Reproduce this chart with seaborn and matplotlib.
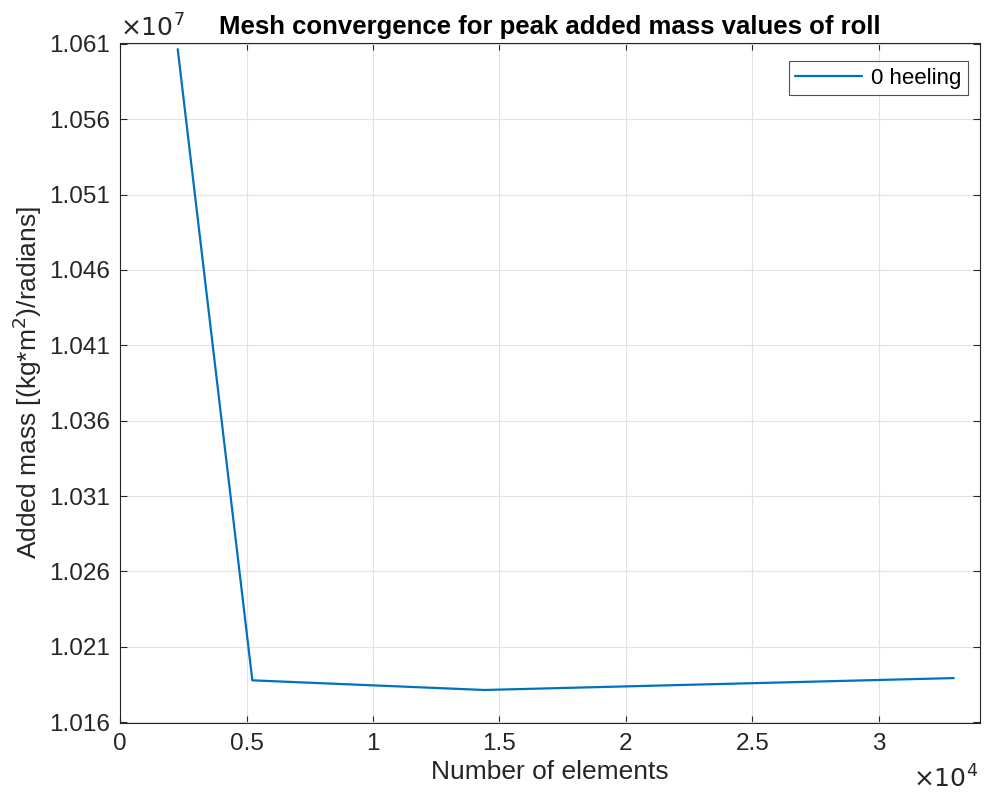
import matplotlib
matplotlib.use("Agg")
import matplotlib.pyplot as plt
import seaborn as sns
import pandas as pd
from matplotlib.ticker import FuncFormatter, FixedLocator

elements = [2280, 5230, 14400, 32960]
added_mass = [1.06065e7, 1.01877e7, 1.01813e7, 1.01892e7]
series = ["0 heeling"] * 4
yticks = [1.016e7, 1.021e7, 1.026e7, 1.031e7, 1.036e7, 1.041e7, 1.046e7, 1.051e7, 1.056e7, 1.061e7]
xticks = [0, 5000, 10000, 15000, 20000, 25000, 30000]

df = pd.DataFrame({"Number of elements": elements, "Added mass": added_mass, "series": series})

sns.set_theme(style="white")
plt.rcParams['font.family'] = ['Liberation Sans', 'DejaVu Sans']

fig = plt.figure(figsize=(9.84, 7.98), dpi=100)
ax = fig.add_axes([0.122, 0.094, 0.874, 0.8525])

sns.lineplot(data=df, x="Number of elements", y="Added mass", hue="series",
             palette=["#0072BD"], linewidth=1.6, ax=ax, legend=True)

ax.set_xlim(0, 34000)
ax.set_ylim(1.01594e7, 1.06108e7)
ax.xaxis.set_major_locator(FixedLocator(xticks))
ax.yaxis.set_major_locator(FixedLocator(yticks))
ax.xaxis.set_major_formatter(FuncFormatter(lambda v, p: f"{v/1e4:g}"))
ax.yaxis.set_major_formatter(FuncFormatter(lambda v, p: f"{v/1e7:.3f}"))

ax.grid(True, color="#e3e3e3", linewidth=0.8)
ax.tick_params(direction="in", length=5, width=0.8, color="#262626",
               labelsize=17.5, labelcolor="#262626", top=True, right=True,
               bottom=True, left=True, pad=7)
for s in ax.spines.values():
    s.set_color("#262626")
    s.set_linewidth(0.8)

ax.set_xlabel("Number of elements", fontsize=19, color="#262626", labelpad=4)
ax.set_ylabel("Added mass [(kg*m$^{2}$)/radians]", fontsize=19, color="#262626", labelpad=4)
ax.set_title("Mesh convergence for peak added mass values of roll",
             fontsize=18.5, fontweight="bold", color="black", pad=6)

ax.text(0.0, 1.002, r"$\times10^{7}$", transform=ax.transAxes, fontsize=18,
        color="#262626", ha="left", va="bottom")
ax.text(0.998, -0.083, r"$\times10^{4}$", transform=ax.transAxes, fontsize=18,
        color="#262626", ha="right", va="center")

leg = ax.legend(loc="upper right", fontsize=16, frameon=True, fancybox=False,
                edgecolor="#262626", handlelength=3.0, borderpad=0.3,
                handletextpad=0.4, borderaxespad=0.0,
                bbox_to_anchor=(0.986, 0.973))
leg.get_frame().set_linewidth(0.8)
plt.setp(leg.get_texts(), color="black")

fig.savefig("out.png", dpi=100)
